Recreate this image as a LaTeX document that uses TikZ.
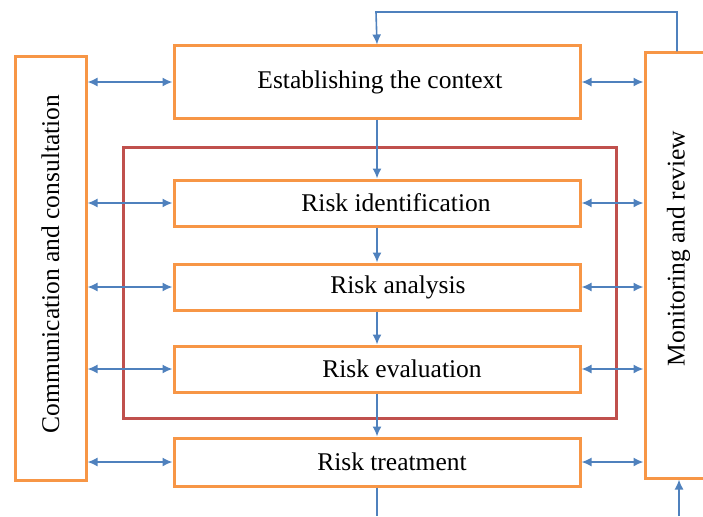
\documentclass[tikz,border=0pt]{standalone}
\usepackage{fontspec}
\setmainfont{Liberation Serif}
\definecolor{boxorange}{RGB}{247,150,70}
\definecolor{framered}{RGB}{192,80,77}
\definecolor{arrowblue}{RGB}{79,129,189}
\usetikzlibrary{arrows.meta,positioning,calc}

\begin{document}
\begin{tikzpicture}[
            x=1pt,y=-1pt,
            font=\fontsize{25.5}{30}\selectfont,
            >={Latex[length=10pt,width=9pt]},
            step node/.style={rectangle,draw=boxorange,line width=3pt,fill=white,inner sep=0pt,minimum width=406pt,minimum height=46pt},
            side node/.style={rectangle,draw=boxorange,line width=3pt,inner sep=0pt},
            link/.style={draw=arrowblue,line width=1.6pt}
        ]
            \clip (0,0) rectangle (703,516);

            % red frame round the assessment steps
            \node[rectangle,draw=framered,line width=3pt,inner sep=0pt,minimum width=493pt,minimum height=271pt] (assess) at (369.5,282.5) {};

            \node[step node,minimum height=72pt] (context) at (377,82) {\hspace*{6pt}Establishing the context};
            \node[step node] (ident) at (377,203) {\hspace*{38pt}Risk identification};
            \node[step node] (analysis) at (377,287) {\hspace*{42pt}Risk analysis};
            \node[step node] (evaluation) at (377,369) {\hspace*{50pt}Risk evaluation};
            \node[step node,minimum height=48pt] (treatment) at (377,462) {\hspace*{30pt}Risk treatment};

            \node[side node,minimum width=71pt,minimum height=423pt] (comm) at (50.5,268.5) {\rotatebox{90}{\hspace*{9pt}Communication and consultation}};
            \node[side node,minimum width=67pt,minimum height=425pt] (monitor) at (678.5,265.5) {\rotatebox{90}{\hspace*{34pt}Monitoring and review}};

            \coordinate (loop) at (376,12);
            \coordinate (outlet) at (377,516);
            \coordinate (inlet) at (679,516);

            % main flow
            \draw[link,->] (context) -- (ident);
            \draw[link,->] (ident) -- (analysis);
            \draw[link,->] (analysis) -- (evaluation);
            \draw[link,->] (evaluation) -- (treatment);
            \draw[link] (treatment.south) -- (treatment.south |- outlet);

            % feedback from monitoring
            \draw[link,->] ([xshift=-1.5pt]monitor.north) |- (loop) -- (context.north);
            \draw[link,->] (inlet) -- (inlet |- monitor.south);

            % links to the side boxes
            \foreach \step in {context,ident,analysis,evaluation,treatment}{
                \draw[link,<->] (comm.east |- \step.west) -- (\step.west);
                \draw[link,<->] (\step.east) -- (\step.east -| monitor.west);
            }
        \end{tikzpicture}
\end{document}
